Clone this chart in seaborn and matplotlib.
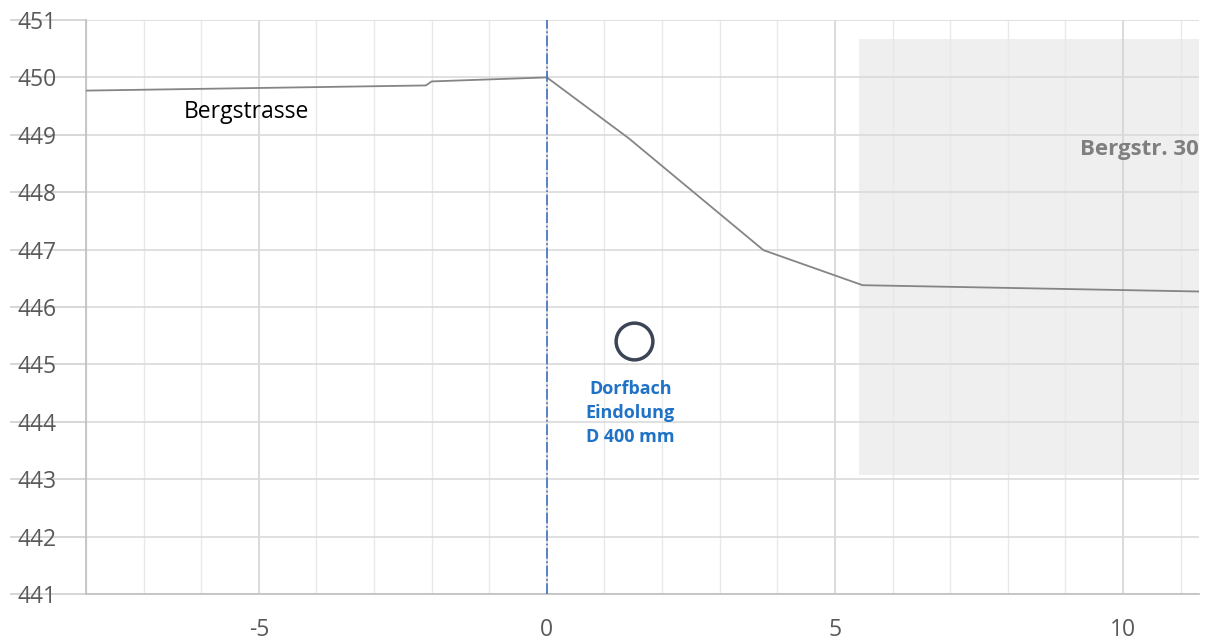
import pandas as pd
import matplotlib.pyplot as plt
import seaborn as sns
from matplotlib.ticker import MultipleLocator

# Längsprofil Bergstrasse
dist = [-8.0, -2.1, -2.0, 0.0, 1.42, 3.76, 5.48, 11.32]
hoehe = [449.77, 449.86, 449.93, 450.0, 448.94, 446.99, 446.38, 446.27]

# Dorfbach Eindolung (Rohr)
rohr_x = [1.51]
rohr_y = [445.41]

# Gebäude Bergstr. 30
haus_x = [5.41, 11.32]
haus_y = [443.07, 450.67]

df = pd.DataFrame({'dist': dist, 'hoehe': hoehe})
df_rohr = pd.DataFrame({'x': rohr_x, 'y': rohr_y})

sns.set_theme(style="whitegrid")
plt.rcParams['font.family'] = ['Open Sans', 'DejaVu Sans']
plt.rcParams['axes.unicode_minus'] = False

fig = plt.figure(figsize=(12.13, 6.44), dpi=100)
ax = fig.add_axes([86 / 1213, 1 - 594 / 644, (1199 - 86) / 1213, (594 - 20) / 644])
ax.set_facecolor('white')

# Gebäudefläche
ax.fill_between(haus_x, haus_y[0], haus_y[1], color='#efefef', zorder=0.5, lw=0)

# Gitter
ax.xaxis.set_major_locator(MultipleLocator(5))
ax.xaxis.set_minor_locator(MultipleLocator(1))
ax.yaxis.set_major_locator(MultipleLocator(1))
ax.grid(which='major', axis='x', color='#d4d4d4', lw=1.2, zorder=1)
ax.grid(which='minor', axis='x', color='#e9e9e9', lw=1.0, zorder=1)
ax.grid(which='major', axis='y', color='#dadada', lw=1.2, zorder=1)
ax.set_axisbelow(True)

# Profil
sns.lineplot(data=df, x='dist', y='hoehe', color='#858585', lw=1.3, ax=ax, zorder=3)

# Bachachse
ax.axvline(0, color='#4472C4', lw=1.2, ls='-.', zorder=4)

# Rohr
sns.scatterplot(data=df_rohr, x='x', y='y', s=700, marker='o', facecolor='white',
                edgecolor='#3b4555', linewidth=2.5, ax=ax, zorder=5)

ax.text(-6.3, 449.4, 'Bergstrasse', fontsize=16.5, color='black', va='center', ha='left')
ax.text(1.45, 444.15, 'Dorfbach\nEindolung\nD 400 mm', fontsize=13, color='#1F72C6',
        fontweight='bold', ha='center', va='center', linespacing=1.45)
ax.text(11.32, 448.74, 'Bergstr. 30', fontsize=16, color='#7f7f7f', fontweight='bold',
        ha='right', va='center')

ax.set_xlim(-8, 11.32)
ax.set_ylim(441, 451)
ax.set_xlabel('')
ax.set_ylabel('')

for side in ['top', 'right']:
    ax.spines[side].set_visible(False)
for side in ['left', 'bottom']:
    ax.spines[side].set_color('#bfbfbf')
    ax.spines[side].set_linewidth(1.2)

ax.tick_params(axis='y', which='major', length=55, width=1.2, color='#d0d0d0',
               pad=-34, labelsize=16.5, labelcolor='#595959', left=True)
ax.tick_params(axis='x', which='both', length=0, pad=17, labelsize=16.5, labelcolor='#595959')
ax.set_xticks([-5, 0, 5, 10])

fig.savefig('out.png', dpi=100)
